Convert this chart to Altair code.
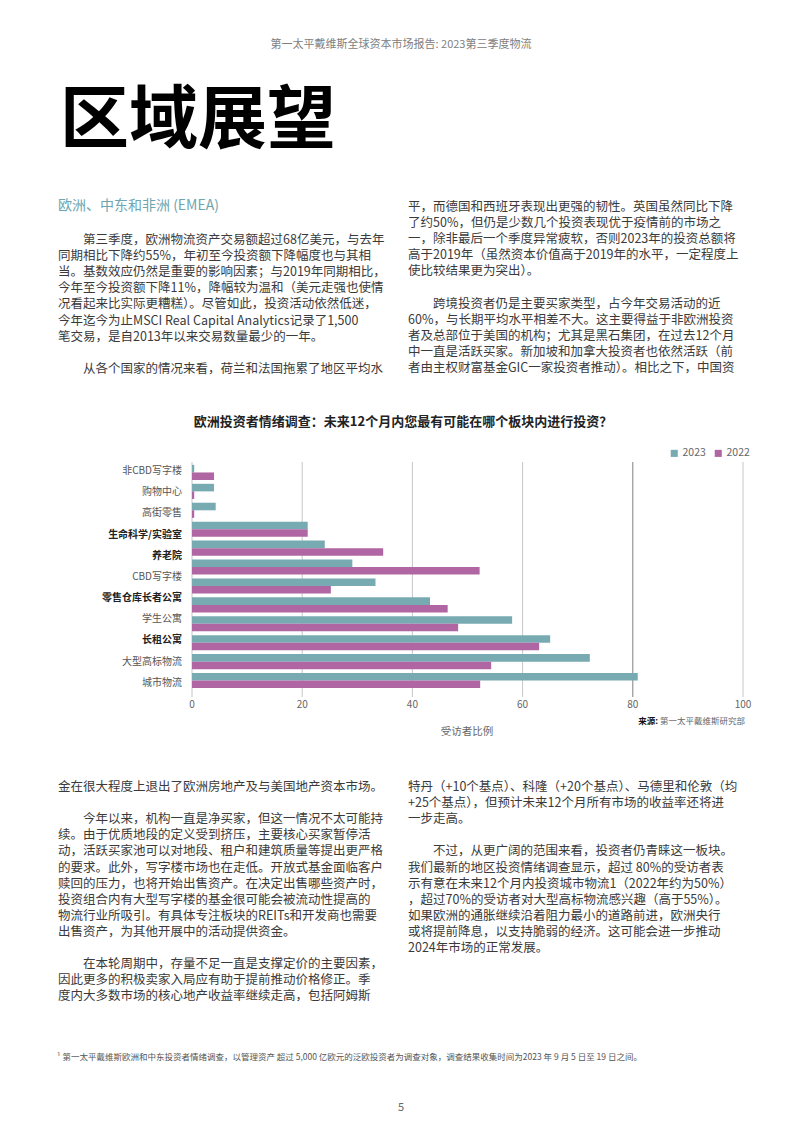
import altair as alt
import pandas as pd

FONT = "Noto Sans CJK SC"

# ---------------- chart data ----------------
bar_categories = ["非CBD写字楼", "购物中心", "高街零售", "生命科学/实验室", "养老院", "CBD写字楼",
                  "零售仓库", "长者公寓", "学生公寓", "长租公寓", "大型高标物流", "城市物流"]
values_2023 = [0.4, 4.0, 4.3, 21.0, 24.1, 29.1, 33.3, 43.2, 58.1, 65.0, 72.2, 80.9]
values_2022 = [4.0, 0.4, 0.4, 21.0, 34.7, 52.2, 25.2, 46.4, 48.3, 63.0, 54.3, 52.3]
series = ["2023", "2022"]
axis_labels = ["非CBD写字楼", "购物中心", "高街零售", "生命科学/实验室", "养老院", "CBD写字楼",
               "零售仓库长者公寓", "学生公寓", "长租公寓", "大型高标物流", "城市物流"]
bold_labels = ["生命科学/实验室", "养老院", "零售仓库长者公寓", "长租公寓"]
x_ticks = [0, 20, 40, 60, 80, 100]

chart_title = "欧洲投资者情绪调查：未来12个月内您最有可能在哪个板块内进行投资？"
x_title = "受访者比例"
source_bold = "来源:"
source_text = "第一太平戴维斯研究部"

# ---------------- page text ----------------
header_text = "第一太平戴维斯全球资本市场报告: 2023第三季度物流"
page_title = "区域展望"
section_heading = "欧洲、中东和非洲 (EMEA)"
left_top_lines = [
    "　　第三季度，欧洲物流资产交易额超过68亿美元，与去年",
    "同期相比下降约55%，年初至今投资额下降幅度也与其相",
    "当。基数效应仍然是重要的影响因素；与2019年同期相比，",
    "今年至今投资额下降11%，降幅较为温和（美元走强也使情",
    "况看起来比实际更糟糕）。尽管如此，投资活动依然低迷，",
    "今年迄今为止MSCI Real Capital Analytics记录了1,500",
    "笔交易，是自2013年以来交易数量最少的一年。",
    "",
    "　　从各个国家的情况来看，荷兰和法国拖累了地区平均水",
]
right_top_lines = [
    "平，而德国和西班牙表现出更强的韧性。英国虽然同比下降",
    "了约50%，但仍是少数几个投资表现优于疫情前的市场之",
    "一，除非最后一个季度异常疲软，否则2023年的投资总额将",
    "高于2019年（虽然资本价值高于2019年的水平，一定程度上",
    "使比较结果更为突出）。",
    "",
    "　　跨境投资者仍是主要买家类型，占今年交易活动的近",
    "60%，与长期平均水平相差不大。这主要得益于非欧洲投资",
    "者及总部位于美国的机构；尤其是黑石集团，在过去12个月",
    "中一直是活跃买家。新加坡和加拿大投资者也依然活跃（前",
    "者由主权财富基金GIC一家投资者推动）。相比之下，中国资",
]
left_bottom_lines = [
    "金在很大程度上退出了欧洲房地产及与美国地产资本市场。",
    "",
    "　　今年以来，机构一直是净买家，但这一情况不太可能持",
    "续。由于优质地段的定义受到挤压，主要核心买家暂停活",
    "动，活跃买家池可以对地段、租户和建筑质量等提出更严格",
    "的要求。此外，写字楼市场也在走低。开放式基金面临客户",
    "赎回的压力，也将开始出售资产。在决定出售哪些资产时，",
    "投资组合内有大型写字楼的基金很可能会被流动性提高的",
    "物流行业所吸引。有具体专注板块的REITs和开发商也需要",
    "出售资产，为其他开展中的活动提供资金。",
    "",
    "　　在本轮周期中，存量不足一直是支撑定价的主要因素，",
    "因此更多的积极卖家入局应有助于提前推动价格修正。季",
    "度内大多数市场的核心地产收益率继续走高，包括阿姆斯",
]
right_bottom_lines = [
    "特丹（+10个基点）、科隆（+20个基点）、马德里和伦敦（均",
    "+25个基点），但预计未来12个月所有市场的收益率还将进",
    "一步走高。",
    "",
    "　　不过，从更广阔的范围来看，投资者仍青睐这一板块。",
    "我们最新的地区投资情绪调查显示，超过 80%的受访者表",
    "示有意在未来12个月内投资城市物流1（2022年约为50%）",
    "，超过70%的受访者对大型高标物流感兴趣（高于55%）。",
    "如果欧洲的通胀继续沿着阻力最小的道路前进，欧洲央行",
    "或将提前降息，以支持脆弱的经济。这可能会进一步推动",
    "2024年市场的正常发展。",
]
footnote = ("¹ 第一太平戴维斯欧洲和中东投资者情绪调查，以管理资产 超过 5,000 亿欧元的泛欧投资者为调查对象，"
            "调查结果收集时间为2023 年 9 月 5 日至 19 日之间。")
page_number = "5"

# ---------------- styles ----------------
TEAL = "#78aab2"
MAGENTA = "#af66a3"
BODY = "#3a3a3a"
LH = 16.1
BODY_SIZE = 12.5
INDENT = 25

bar_df = pd.DataFrame({
    "cat": bar_categories * 2,
    "series": ["2023"] * len(bar_categories) + ["2022"] * len(bar_categories),
    "value": values_2023 + values_2022,
})
tick_df = pd.DataFrame({"t": x_ticks})
label_df = pd.DataFrame({"label": axis_labels,
                         "bold": [l in bold_labels for l in axis_labels]})


def xscale():
    return alt.Scale(domain=[0, 100], range=[184, 735], nice=False, zero=True)


def block(lines, x, y, size=13, color=BODY, weight="normal", align="left",
          baseline="alphabetic"):
    return alt.Chart(alt.Data(values=[{}])).mark_text(
        text=lines, fontSize=size, font=FONT, color=color, fontWeight=weight,
        align=align, baseline=baseline
    ).encode(x=alt.value(x), y=alt.value(y))


def column(lines, x0, y0):
    rows = []
    for i, line in enumerate(lines):
        if line == "":
            continue
        indent = 1 if line.startswith("　") else 0
        rows.append({"row": i, "indent": indent, "text": line.lstrip("　")})
    df = pd.DataFrame(rows)
    return alt.Chart(df).mark_text(
        font=FONT, fontSize=BODY_SIZE, color=BODY, align="left", baseline="alphabetic"
    ).encode(
        x=alt.X("indent:Q", axis=None,
                scale=alt.Scale(domain=[0, 1], range=[x0, x0 + INDENT], nice=False, zero=False)),
        y=alt.Y("row:Q", axis=None,
                scale=alt.Scale(domain=[0, 1], range=[y0, y0 + LH], nice=False, zero=False)),
        text="text:N",
    )


grid = alt.Chart(tick_df).mark_rule(strokeWidth=1).encode(
    x=alt.X("t:Q", scale=xscale(), axis=None),
    y=alt.value(454), y2=alt.value(689),
    color=alt.condition(alt.datum.t == 80, alt.value("#808080"), alt.value("#c6c6c6")),
)

bars = alt.Chart(bar_df).mark_bar().encode(
    x=alt.X("value:Q", scale=xscale(), axis=None),
    y=alt.Y("cat:N", sort=None, axis=None,
            scale=alt.Scale(domain=bar_categories, range=[455, 682],
                            paddingInner=0.2, paddingOuter=0.1)),
    yOffset=alt.YOffset("series:N", sort=None,
                        scale=alt.Scale(domain=series, paddingInner=0, paddingOuter=0)),
    color=alt.Color("series:N", sort=None,
                    scale=alt.Scale(domain=series, range=[TEAL, MAGENTA]),
                    legend=alt.Legend(orient="none", legendX=661, legendY=440,
                                      direction="horizontal", title=None,
                                      symbolType="square", symbolSize=50,
                                      symbolStrokeWidth=0, labelFontSize=10.5,
                                      labelColor="#666666", labelFont=FONT,
                                      columnPadding=7, labelOffset=3, padding=0)),
)

xlabels = alt.Chart(tick_df).mark_text(
    font=FONT, fontSize=10, color="#666666", baseline="middle", align="center"
).encode(x=alt.X("t:Q", scale=xscale(), axis=None), y=alt.value(697), text=alt.Text("t:Q"))

label_scale = alt.Scale(type="point", domain=axis_labels, range=[463, 674.7], padding=0)
ylabels_normal = alt.Chart(label_df).transform_filter(alt.datum.bold == False).mark_text(
    font=FONT, fontSize=10, color="#555555", align="right", baseline="middle"
).encode(y=alt.Y("label:N", scale=label_scale, axis=None, sort=None),
         x=alt.value(174), text="label:N")
ylabels_bold = alt.Chart(label_df).transform_filter(alt.datum.bold == True).mark_text(
    font=FONT, fontSize=10, color="#222222", fontWeight="bold", align="right", baseline="middle"
).encode(y=alt.Y("label:N", scale=label_scale, axis=None, sort=None),
         x=alt.value(174), text="label:N")

layers = [
    block(header_text, 393, 37, size=11, color="#808080", align="center", baseline="middle"),
    block(page_title, 52, 135, size=69, color="#000000", weight="bold"),
    block(section_heading, 50, 202, size=14, color="#6ea6b0"),
    column(left_top_lines, 50, 236),
    column(right_top_lines, 400, 203),
    block(chart_title, 395, 414, size=13, color="#222222", weight="bold",
          align="center", baseline="middle"),
    grid, bars, xlabels, ylabels_normal, ylabels_bold,
    block(x_title, 459, 724, size=10.5, color="#666666", align="center", baseline="middle"),
    block(source_text, 737, 713, size=8.5, color="#666666", align="right", baseline="middle"),
    block(source_bold, 650, 713, size=8.5, color="#111111", weight="bold",
          align="right", baseline="middle"),
    column(left_bottom_lines, 50, 783),
    column(right_bottom_lines, 400, 783),
    block(footnote, 49, 1052, size=8.5, color="#555555"),
    block(page_number, 393, 1100, size=11, color="#666666", align="center", baseline="middle"),
]

chart = alt.layer(*layers).resolve_scale(x="independent", y="independent").properties(
    width=786, height=1110, padding=0,
    autosize=alt.AutoSizeParams(type="none"),
).configure_view(stroke=None)

chart.save("out.html", embed_options={"renderer": "svg", "actions": False})
